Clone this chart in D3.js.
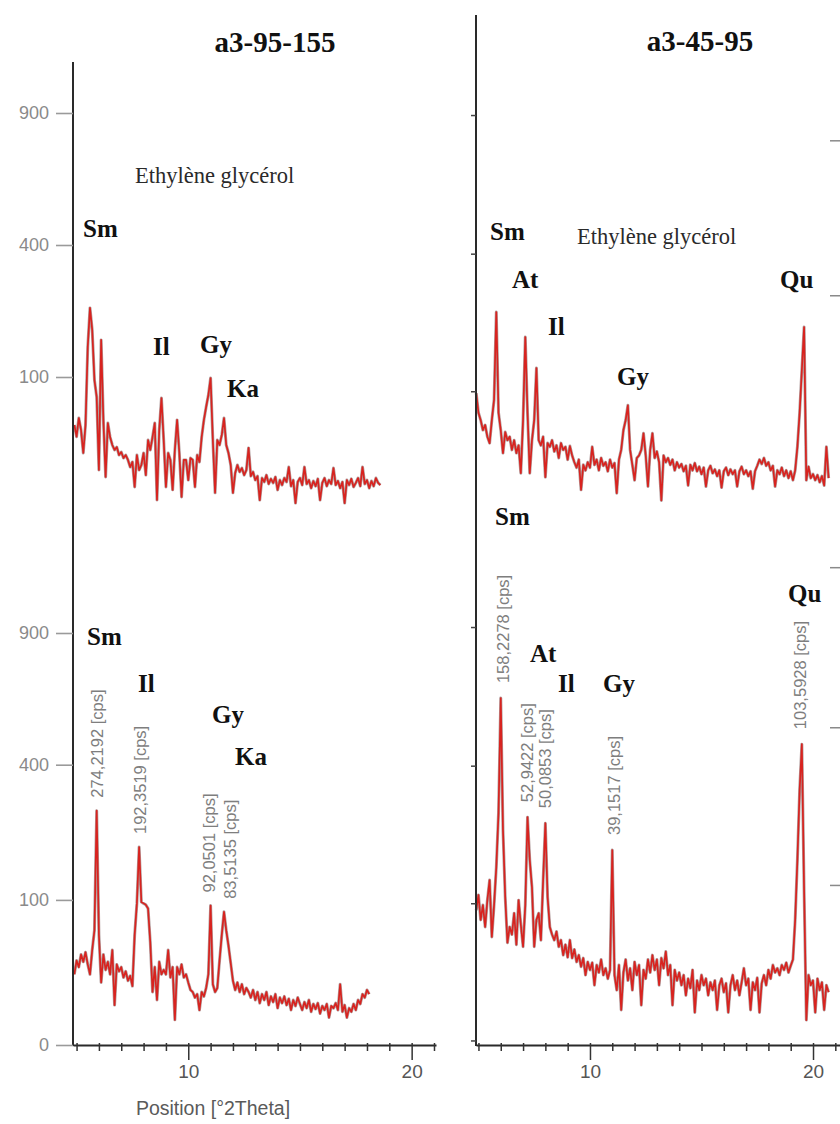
<!DOCTYPE html>
<html>
<head>
<meta charset="utf-8">
<script src="https://cdn.jsdelivr.net/npm/d3@7"></script>
<style>
  html, body { margin: 0; padding: 0; background: #fff; }
  svg { display: block; }
</style>
</head>
<body>
<svg id="chart" width="840" height="1124"></svg>
<script>
// ---- scan data (°2Theta grid: start angle + constant step) ----
const scanStep = 0.1;
const leftTopStart = 4.9;
const leftBottomStart = 4.9;
const rightTopStart = 4.9;
const rightBottomStart = 4.9;

// a3-95-155, ethylene glycol (counts)
const leftTopCounts = [
  40.5, 30, 47.5, 35.8, 18, 40.5, 150.6, 232, 184, 95.5,
  72, 8.7, 164, 45.5, 5.9, 42.4, 29.7, 23.5, 20, 22,
  16.7, 18.6, 14.9, 16.7, 13.8, 10.1, 12.7, 2.8, 16.7, 8.7,
  11.1, 18, 6.6, 27.3, 20, 29.7, 42.4, 0.46, 35.8, 70.7,
  27.3, 2.8, 18, 13.8, 2.1, 20, 45.5, 18, 0.83, 13.8,
  13.8, 4.8, 14.9, 13.8, 2.8, 16.7, 12.7, 29.7, 45.5, 59.7,
  74.6, 98.5, 27.3, 1.5, 27.3, 23.5, 31.4, 47.5, 23.5, 18,
  11.1, 1.5, 7.4, 11.1, 7.9, 9.6, 6.6, 8.7, 21.4, 6.2,
  7.9, 4.8, 6.2, 0.46, 5.5, 4.2, 6.6, 3.6, 5.2, 3.9,
  5.9, 2.1, 4.8, 3.3, 5.5, 4.2, 10.1, 3.0, 4.8, 0.2,
  4.2, 5.5, 3.3, 10.1, 3.6, 4.8, 2.5, 4.5, 3.0, 5.2,
  0.46, 3.9, 5.5, 3.0, 4.8, 3.6, 9.6, 3.3, 4.5, 2.5,
  4.2, 0.2, 4.8, 3.3, 5.2, 2.8, 3.9, 5.5, 3.0, 10.1,
  3.6, 4.8, 2.5, 4.5, 3.0, 5.5, 3.9, 3.3
];

// a3-95-155, labelled scan (counts)
const leftBottomCounts = [
  22, 32, 27, 37, 31, 39, 29, 22, 41, 61,
  274.2192, 56, 17, 37, 25, 31, 22, 41, 6.6, 29,
  24, 27, 20, 24, 18, 21, 15, 56, 95, 192.3519,
  97, 95, 93, 88, 48, 12, 27, 8.5, 31, 22,
  25, 22, 41, 20, 27, 2.5, 27, 22, 29, 20,
  22, 17, 13, 12, 9.5, 11, 5, 12, 10, 14,
  22, 92.0501, 16, 12, 14, 32, 56, 83.5135, 61, 45,
  30, 18, 13, 17, 12, 16, 11, 14, 12, 9.5,
  13, 8.5, 12, 7.3, 11, 8.5, 12, 6.6, 10, 7.7,
  11, 5.6, 9.5, 7.3, 10, 6.6, 9, 5, 8.5, 6.3,
  9.5, 7, 5, 7.7, 5.6, 8.5, 4.5, 7, 5.3, 7.3,
  4, 6.3, 5, 7, 3, 6.3, 5.6, 7.3, 5, 16,
  4.5, 6.6, 3, 5.6, 4.5, 7, 5, 8.5, 7, 11,
  9.5, 13, 11
];

// a3-45-95, ethylene glycol (counts)
const rightTopCounts = [
  23.6, 19.7, 18.4, 16.8, 17.6, 15.8, 14.9, 18.4, 22.2, 49.7,
  19.7, 16.8, 13.6, 16.5, 15.3, 15.8, 14.0, 15.3, 13.6, 14.6,
  11.3, 18.4, 39.5, 19.7, 11.3, 15.3, 18.4, 29.7, 15.3, 14.6,
  15.8, 10.9, 14.9, 14.4, 15.3, 13.8, 14.6, 13.0, 14.9, 14.0,
  14.4, 12.8, 14.5, 13.3, 12.5, 11.9, 12.8, 9.7, 12.2, 11.6,
  12.5, 11.9, 14.4, 12.2, 12.8, 11.6, 13.0, 12.1, 12.5, 11.5,
  12.8, 11.9, 12.4, 9.4, 12.8, 14.0, 16.8, 18.4, 21.1, 14.0,
  12.2, 10.6, 13.0, 13.3, 14.0, 16.3, 13.3, 10.0, 14.0, 16.3,
  13.0, 13.8, 12.5, 8.8, 13.3, 12.5, 13.0, 12.2, 12.8, 11.6,
  12.5, 11.9, 12.3, 11.5, 12.1, 10.1, 12.2, 11.6, 12.4, 11.5,
  12.0, 11.2, 11.9, 10.0, 11.6, 12.1, 11.3, 11.7, 11.0, 11.6,
  9.9, 11.5, 11.9, 11.1, 11.7, 11.2, 11.6, 10.0, 11.5, 12.0,
  11.2, 11.6, 11.0, 11.5, 9.8, 11.5, 12.1, 12.8, 12.3, 13.0,
  12.1, 12.5, 11.6, 12.1, 10.0, 11.6, 11.2, 11.9, 11.0, 11.6,
  10.8, 11.5, 10.6, 11.6, 14.4, 19.7, 29.2, 43.3, 10.6, 12.0,
  10.8, 11.2, 10.6, 11.1, 10.4, 11.0, 10.1, 14.4, 10.8
];

// a3-45-95, labelled scan (counts)
const rightBottomCounts = [
  22.5, 25.9, 20.6, 23.6, 19.3, 24.7, 29.7, 17.6, 23.6, 33.4,
  55.1, 158.2278, 47.0, 25.4, 16.7, 19.3, 18.0, 21.9, 16.4, 24.7,
  19.7, 16.1, 23.6, 52.9422, 35.7, 27.8, 16.1, 20.6, 21.9, 17.1,
  29.7, 50.0853, 25.4, 19.3, 18.0, 17.1, 18.5, 16.1, 17.1, 14.9,
  16.4, 14.6, 17.1, 14.5, 15.7, 14.0, 14.9, 13.4, 14.5, 12.4,
  14.0, 13.0, 13.9, 11.3, 13.6, 12.7, 14.3, 12.4, 13.2, 12.0,
  13.0, 39.1517, 12.4, 10.8, 13.6, 9.0, 12.7, 14.3, 11.8, 13.2,
  10.8, 14.0, 12.4, 13.6, 9.4, 13.0, 12.0, 14.3, 12.7, 14.9,
  13.0, 14.3, 11.3, 14.5, 13.2, 15.4, 12.4, 13.6, 9.4, 13.0,
  11.8, 12.7, 11.3, 12.4, 10.3, 12.0, 11.0, 13.0, 8.8, 11.8,
  10.8, 12.4, 11.3, 12.0, 10.3, 11.6, 10.8, 11.8, 9.0, 11.3,
  12.0, 10.6, 11.5, 8.8, 11.3, 12.4, 10.8, 11.8, 10.3, 11.6,
  13.2, 11.3, 12.0, 9.0, 11.6, 10.8, 12.1, 8.8, 11.5, 12.4,
  11.3, 13.0, 12.0, 13.6, 12.7, 13.2, 12.4, 13.6, 13.0, 13.9,
  12.7, 13.5, 14.3, 20.6, 35.7, 67.8, 103.5928, 27.1, 8.2, 12.4,
  11.3, 11.8, 8.8, 12.0, 10.8, 11.6, 9.0, 11.3, 10.6
];

// labelled reflections (°2Theta of the peak maxima)
const leftBottomPeakAngles = [5.9, 7.8, 11.0, 11.6];
const rightBottomPeakAngles = [6.0, 7.2, 8.0, 11.0, 19.5];

// phase names
const leftTopPhases = ["Sm", "Il", "Gy", "Ka"];
const leftBottomPhases = ["Sm", "Il", "Gy", "Ka"];
const rightTopPhases = ["Sm", "At", "Il", "Gy", "Qu"];
const rightBottomPhases = ["Sm", "Qu", "At", "Il", "Gy"];
const sampleNames = ["a3-95-155", "a3-45-95"];
const treatment = "Ethylène glycérol";

// ticks
const xTickValues = [5, 6, 7, 8, 9, 10, 11, 12, 13, 14, 15, 16, 17, 18, 19, 20, 21];
const xTickLabels = [10, 20];
const leftTopTicks = [100, 400, 900];
const leftBottomTicks = [0, 100, 400, 900];
const rightTopTicks = [24, 85, 304];
const rightBottomTicks = [6.8, 24, 85, 304];
const rightTopEdgeTicks = [58, 241];
const rightBottomEdgeTicks = [28.4, 121, 527];

// ---- drawing ----
const svg = d3.select("#chart");
const serif = "'Liberation Serif', 'Times New Roman', serif";
const sans = "'Liberation Sans', Arial, sans-serif";

const xLeft = d3.scaleLinear().domain([4.84, 21.09]).range([73, 436]);
const xRight = d3.scaleLinear().domain([4.89, 21.21]).range([476, 840]);

const yLeftTop = d3.scaleSqrt().domain([0, 900]).range([509, 113]);
const yLeftBottom = d3.scalePow().exponent(0.475).domain([0, 900]).range([1045, 633]);
const yRightTop = d3.scaleLog().domain([10, 100]).range([486.5, 236]);
const yRightBottom = d3.scaleLog().domain([10, 100]).range([998.5, 748]);

function scanPoints(start, counts) {
  return counts.map((c, i) => ({ angle: +(start + i * scanStep).toFixed(2), count: c }));
}

function drawScan(x, y, start, counts) {
  const pts = scanPoints(start, counts);
  const line = d3.line().x(d => x(d.angle)).y(d => y(d.count));
  const g = svg.append("g");
  g.append("path").attr("d", line(pts))
    .attr("fill", "none").attr("stroke", "#a08686").attr("stroke-width", 3)
    .attr("stroke-linejoin", "round").attr("opacity", 0.8);
  g.append("path").attr("d", line(pts))
    .attr("fill", "none").attr("stroke", "#d8231f").attr("stroke-width", 1.7)
    .attr("stroke-linejoin", "round");
  return pts;
}

drawScan(xLeft, yLeftTop, leftTopStart, leftTopCounts);
const lbPts = drawScan(xLeft, yLeftBottom, leftBottomStart, leftBottomCounts);
drawScan(xRight, yRightTop, rightTopStart, rightTopCounts);
const rbPts = drawScan(xRight, yRightBottom, rightBottomStart, rightBottomCounts);

// vertical frame lines
svg.append("line").attr("x1", xLeft.range()[0]).attr("x2", xLeft.range()[0])
  .attr("y1", 62).attr("y2", 1046).attr("stroke", "#2a2a2a").attr("stroke-width", 2);
svg.append("line").attr("x1", xRight.range()[0]).attr("x2", xRight.range()[0])
  .attr("y1", 15).attr("y2", 1046).attr("stroke", "#2a2a2a").attr("stroke-width", 2);

// labelled intensity axes (left column)
function labelledAxis(scale, ticks) {
  const g = svg.append("g").attr("transform", `translate(${xLeft.range()[0]},0)`)
    .call(d3.axisLeft(scale).tickValues(ticks).tickSize(17).tickPadding(7).tickFormat(d3.format("d")));
  g.select(".domain").remove();
  g.selectAll(".tick line").attr("stroke", "#9a9a9a").attr("stroke-width", 1.6);
  g.selectAll(".tick text").attr("fill", "#8a8a8a").style("font-family", sans).style("font-size", "18px");
}
labelledAxis(yLeftTop, leftTopTicks);
labelledAxis(yLeftBottom, leftBottomTicks);

// unlabelled intensity ticks (right column)
function plainAxis(scale, ticks) {
  const g = svg.append("g").attr("transform", `translate(${xRight.range()[0]},0)`)
    .call(d3.axisLeft(scale).tickValues(ticks).tickSize(5).tickFormat(""));
  g.select(".domain").remove();
  g.selectAll(".tick line").attr("stroke", "#444").attr("stroke-width", 1.5);
}
plainAxis(yRightTop, rightTopTicks);
plainAxis(yRightBottom, rightBottomTicks);

function edgeTicks(scale, ticks) {
  const g = svg.append("g").attr("transform", `translate(840,0)`)
    .call(d3.axisLeft(scale).tickValues(ticks).tickSize(10).tickFormat(""));
  g.select(".domain").remove();
  g.selectAll(".tick line").attr("stroke", "#8a8a8a").attr("stroke-width", 1.5);
}
edgeTicks(yRightTop, rightTopEdgeTicks);
edgeTicks(yRightBottom, rightBottomEdgeTicks);

// 2Theta axes
function angleAxis(scale) {
  const g = svg.append("g").attr("transform", "translate(0,1045)")
    .call(d3.axisBottom(scale).tickValues(xTickValues).tickSizeInner(6).tickSizeOuter(0)
      .tickPadding(14).tickFormat(d => xTickLabels.includes(d) ? d : ""));
  g.select(".domain").attr("stroke", "#2a2a2a").attr("stroke-width", 2);
  g.selectAll(".tick line").attr("stroke", "#333").attr("stroke-width", 1.5).attr("y1", -2);
  g.selectAll(".tick").filter(d => xTickLabels.includes(d)).select("line").attr("y2", 15);
  g.selectAll(".tick text").attr("fill", "#555").style("font-family", sans).style("font-size", "19px");
}
angleAxis(xLeft);
angleAxis(xRight);

svg.append("text").attr("x", 213).attr("y", 1115).attr("text-anchor", "middle")
  .attr("fill", "#5a5a5a").style("font-family", sans).style("font-size", "19.5px")
  .text("Position [°2Theta]");

// sample titles and treatment notes
svg.append("text").attr("x", 275).attr("y", 52).attr("text-anchor", "middle")
  .style("font-family", serif).style("font-weight", "bold").style("font-size", "29px")
  .attr("fill", "#111").text(sampleNames[0]);
svg.append("text").attr("x", 700).attr("y", 51).attr("text-anchor", "middle")
  .style("font-family", serif).style("font-weight", "bold").style("font-size", "29px")
  .attr("fill", "#111").text(sampleNames[1]);
[[135, 183], [577, 244]].forEach(([x, y]) => {
  svg.append("text").attr("x", x).attr("y", y)
    .style("font-family", serif).style("font-size", "22.5px").attr("fill", "#2a2a2a")
    .text(treatment);
});

// phase tags
const tagLayout = [
  [leftTopPhases, [[83, 237], [153, 355], [200, 353], [227, 397]]],
  [leftBottomPhases, [[87, 645], [138, 692], [212, 723], [235, 765]]],
  [rightTopPhases, [[490, 240], [512, 288], [548, 335], [617, 385], [780, 288]]],
  [rightBottomPhases, [[495, 525], [788, 602], [530, 662], [558, 692], [603, 692]]]
];
tagLayout.forEach(([names, spots]) => {
  names.forEach((name, i) => {
    svg.append("text").attr("x", spots[i][0]).attr("y", spots[i][1])
      .style("font-family", serif).style("font-weight", "bold").style("font-size", "25px")
      .attr("fill", "#111").text(name);
  });
});

// peak intensity labels, taken from the scan value at each labelled angle
const cps = v => v.toFixed(4).replace(".", ",") + " [cps]";
function peakLabels(pts, angles, x, y, shifts, gap) {
  angles.forEach((a, i) => {
    const p = pts.find(d => Math.abs(d.angle - a) < 1e-6);
    const px = x(p.angle) + shifts[i];
    const py = y(p.count) - gap;
    svg.append("text")
      .attr("transform", `translate(${px},${py}) rotate(-90)`)
      .attr("dy", "0.35em")
      .attr("fill", "#7e7e7e").style("font-family", sans).style("font-size", "16.5px")
      .text(cps(p.count));
  });
}
peakLabels(lbPts, leftBottomPeakAngles, xLeft, yLeftBottom, [1, 1, -1, 6], 13);
peakLabels(rbPts, rightBottomPeakAngles, xRight, yRightBottom, [2, 0, 0, 2, -2], 15);
</script>
</body>
</html>
